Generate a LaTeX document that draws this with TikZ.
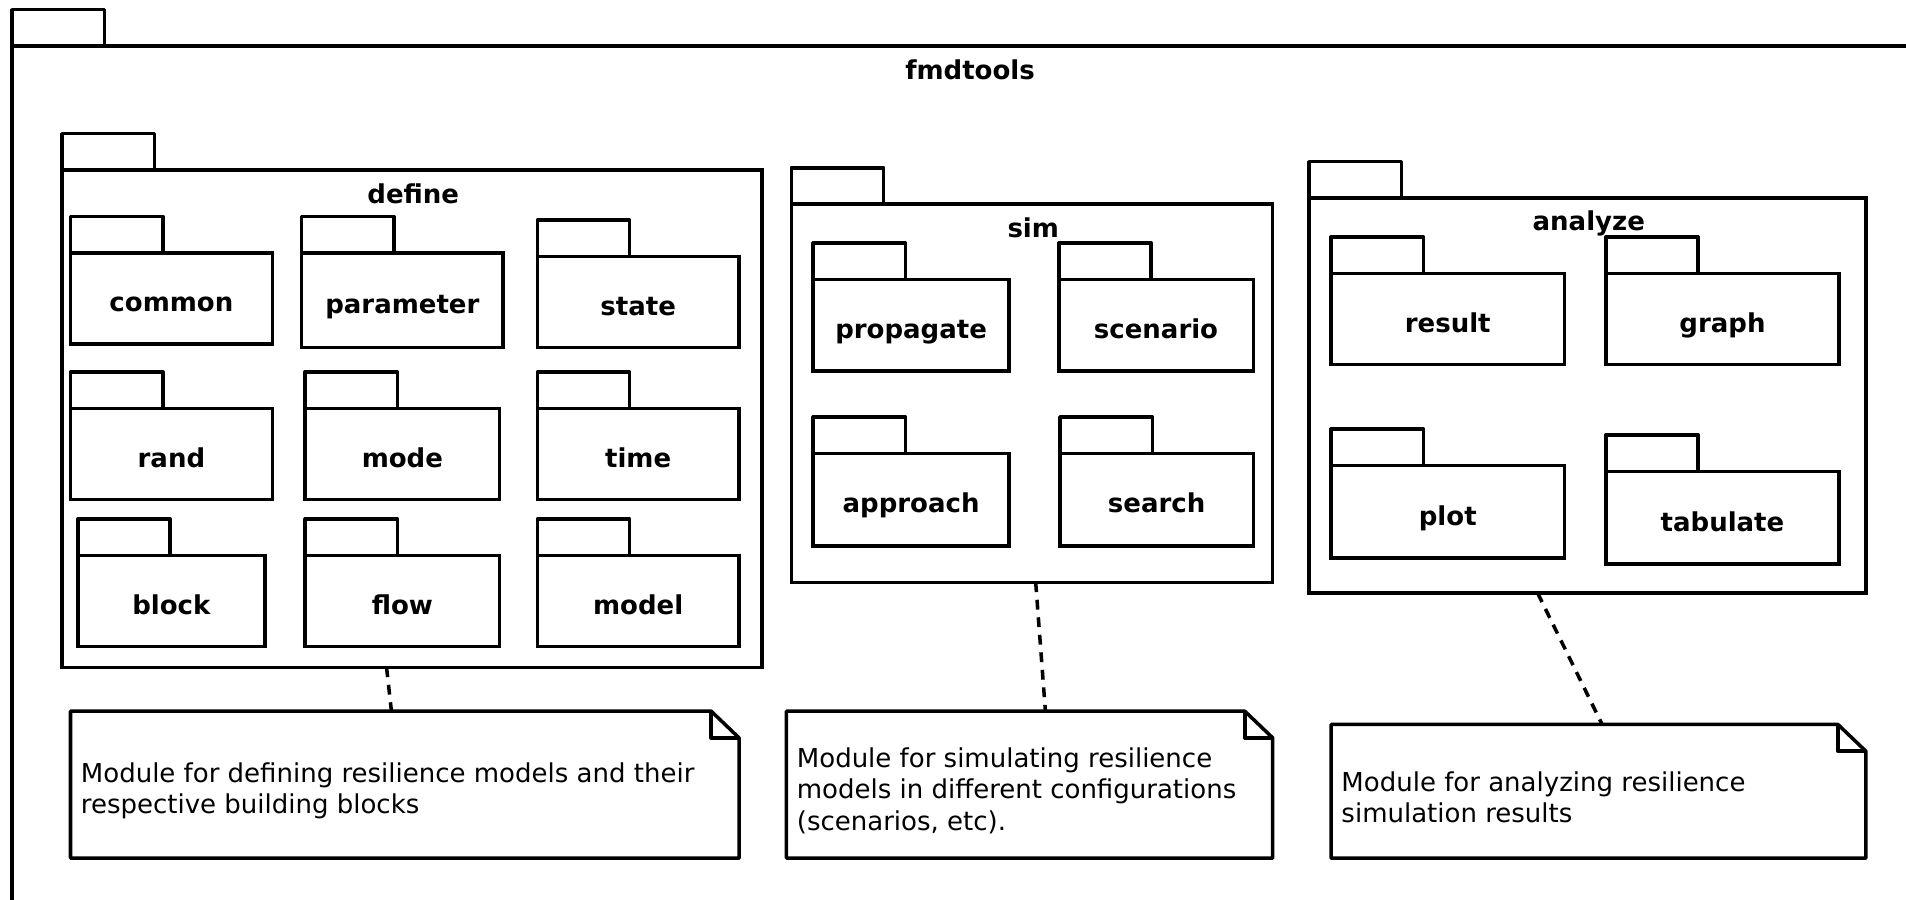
\documentclass[tikz,border=0pt]{standalone}
\usepackage{fontspec}
\setmainfont{DejaVu Sans}
\usetikzlibrary{positioning,fit,calc}

\tikzset{
  pkg line/.style={line width=1pt, line join=round},
  pkg body/.style={draw, line width=1pt, inner sep=0pt, outer sep=0pt},
  pkg label/.style={font=\fontsize{7.4}{9}\selectfont\bfseries, inner sep=0pt, anchor=base},
  note text/.style={font=\fontsize{7.4}{9}\selectfont, align=left, anchor=west, inner sep=0pt},
  note link/.style={line width=1pt, dash pattern=on 2.8pt off 2.2pt},
}

% package: name, label, tab left x, tab top y, right x, bottom y
\newcommand{\umlpkg}[6]{%
  \draw[pkg line] (#3,#4+30) |- (#3+76,#4) -- (#3+76,#4+30);
  \node[pkg body, fit={(#3,#4+30) (#5,#6)}] (#1) {};
  \node[pkg label] (#1-label) at ($(#1.center)+(0,11)$) {#2};
}
% package holding others: label near the top
\newcommand{\umlgroup}[6]{%
  \draw[pkg line] (#3,#4+30) |- (#3+76,#4) -- (#3+76,#4+30);
  \node[pkg body, fit={(#3,#4+30) (#5,#6)}] (#1) {};
  \node[pkg label] (#1-label) at ($(#1.north)+(1,27)$) {#2};
}
% note: name, left x, top y, right x, bottom y, text
\newcommand{\umlnote}[6]{%
  \draw[pkg line] (#2,#3) -- (#4-23,#3) -- (#4,#3+22) -- (#4,#5) -- (#2,#5) -- cycle;
  \draw[pkg line] (#4-23,#3) -- (#4-23,#3+22) -- (#4,#3+22);
  \node[inner sep=0pt, outer sep=0pt, fit={(#2,#3) (#4,#5)}] (#1) {};
  \node[note text] (#1-text) at (#2+8,{(#3+#5)/2+5}) {#6};
}

\begin{document}
\begin{tikzpicture}[x=0.012156cm, y=-0.012156cm]
  \useasboundingbox (0,0) rectangle (1568,740);

  % outer package
  \draw[pkg line] (10,38) |- (86,8) -- (86,38);
  \draw[pkg line] (1600,38) -- (10,38) -- (10,780);
  \node[pkg label] (fmdtools) at (798,65) {fmdtools};

  % define
  \umlgroup{define}{define}{51}{110}{627}{549}
  \umlpkg{common}{common}{58}{178}{224}{283}
  \umlpkg{parameter}{parameter}{248}{178}{414}{286}
  \umlpkg{state}{state}{442}{181}{608}{286}
  \umlpkg{rand}{rand}{58}{306}{224}{411}
  \umlpkg{mode}{mode}{251}{306}{411}{411}
  \umlpkg{time}{time}{442}{306}{608}{411}
  \umlpkg{block}{block}{64}{427}{218}{532}
  \umlpkg{flow}{flow}{251}{427}{411}{532}
  \umlpkg{model}{model}{442}{427}{608}{532}

  % sim
  \umlgroup{sim}{sim}{651}{138}{1047}{479}
  \umlpkg{propagate}{propagate}{669}{200}{830}{305}
  \umlpkg{scenario}{scenario}{871}{200}{1031}{305}
  \umlpkg{approach}{approach}{669}{343}{830}{449}
  \umlpkg{search}{search}{872}{343}{1031}{449}

  % analyze
  \umlgroup{analyze}{analyze}{1077}{133}{1535}{488}
  \umlpkg{result}{result}{1095}{195}{1287}{300}
  \umlpkg{graph}{graph}{1321}{195}{1513}{300}
  \umlpkg{plot}{plot}{1095}{353}{1287}{459}
  \umlpkg{tabulate}{tabulate}{1321}{358}{1513}{464}

  % notes
  \umlnote{define-note}{58}{585}{608}{706}{Module for defining resilience models and their\\respective building blocks}
  \umlnote{sim-note}{647}{585}{1047}{706}{Module for simulating resilience\\models in different configurations\\(scenarios, etc).}
  \umlnote{analyze-note}{1095}{596}{1535}{706}{Module for analyzing resilience\\simulation results}

  \draw[note link] ($(define.south)+(-21,0)$) -- ($(define-note.north)+(-11,0)$);
  \draw[note link] ($(sim.south)+(3,0)$) -- ($(sim-note.north)+(13,0)$);
  \draw[note link] ($(analyze.south)+(-41,0)$) -- ($(analyze-note.north)+(3,0)$);
\end{tikzpicture}
\end{document}
